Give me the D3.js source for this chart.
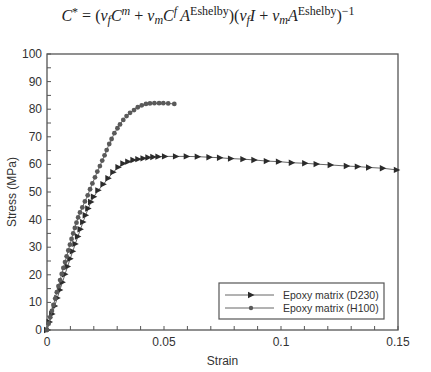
<!DOCTYPE html>
<html>
<head>
<meta charset="utf-8">
<script src="https://cdn.jsdelivr.net/npm/d3@7"></script>
<style>
    body { margin: 0; background: #fff; }
    svg text { font-family: "Liberation Sans", Arial, sans-serif; fill: #333; }
</style>
</head>
<body>
<svg id="svg" width="431" height="372"></svg>
<script>
// strain / stress
var d230Strain = [0, 0.0011, 0.0022, 0.0033, 0.0044, 0.0055, 0.0066, 0.0077, 0.0088, 0.0099,
    0.0110, 0.0121, 0.0132, 0.0143, 0.0154, 0.0165, 0.0176, 0.0188, 0.0200, 0.0219,
    0.0241, 0.0262, 0.0283, 0.0305, 0.0326, 0.0347, 0.0369, 0.0390, 0.0412, 0.0433,
    0.0454, 0.0476, 0.0504, 0.0551, 0.0597, 0.0644, 0.0694, 0.0739, 0.0786, 0.0839,
    0.0886, 0.0939, 0.0991, 0.1046, 0.1103, 0.1152, 0.1212, 0.1281, 0.1328, 0.1376,
    0.1435, 0.1495];
var d230Stress = [0, 2.9, 5.8, 8.7, 11.6, 14.5, 17.3, 20.2, 23.0, 25.8,
    28.5, 31.2, 33.9, 36.5, 39.1, 41.6, 44.0, 46.4, 48.3, 50.6,
    52.8, 55.0, 57.2, 59.0, 60.3, 61.0, 61.6, 61.9, 62.2, 62.5,
    62.7, 62.8, 62.9, 62.9, 62.9, 62.8, 62.6, 62.4, 62.1, 61.9,
    61.6, 61.2, 61.0, 60.6, 60.4, 60.1, 59.8, 59.4, 59.2, 58.9,
    58.6, 58.0];

var h100Strain = [0, 0.0007, 0.0014, 0.0021, 0.0028, 0.0035, 0.0042, 0.0049, 0.0056, 0.0063,
    0.0070, 0.0077, 0.0084, 0.0091, 0.0098, 0.0105, 0.0112, 0.0119, 0.0126, 0.0133,
    0.0141, 0.0151, 0.0162, 0.0174, 0.0184, 0.0194, 0.0205, 0.0215, 0.0226, 0.0236,
    0.0246, 0.0255, 0.0266, 0.0276, 0.0288, 0.0301, 0.0312, 0.0326, 0.0340, 0.0355,
    0.0372, 0.0388, 0.0405, 0.0423, 0.0440, 0.0459, 0.0479, 0.0497, 0.0518, 0.0544];
var h100Stress = [0, 2.3, 4.6, 6.9, 9.1, 11.4, 13.7, 15.9, 18.1, 20.3,
    22.5, 24.6, 26.7, 28.8, 30.9, 33.0, 35.0, 37.0, 38.9, 40.8,
    42.6, 44.4, 46.6, 48.8, 51.0, 53.1, 55.3, 57.4, 59.4, 61.4,
    63.3, 65.2, 67.4, 69.2, 71.3, 73.1, 74.5, 76.1, 77.5, 78.7,
    79.7, 80.7, 81.4, 81.9, 82.1, 82.2, 82.2, 82.2, 82.1, 81.9];

var xTickLabels = [0, 0.05, 0.1, 0.15];
var yTickLabels = [0, 10, 20, 30, 40, 50, 60, 70, 80, 90, 100];
var seriesNames = ["Epoxy matrix (D230)", "Epoxy matrix (H100)"];

var svg = d3.select("#svg");
var L = 47, R = 398, T = 54, B = 330;

var x = d3.scaleLinear().domain([0, 0.15]).range([L, R]);
var y = d3.scaleLinear().domain([0, 100]).range([B, T]);

//equation on top
var eq = [
    ["C", "i", 0], ["*", "", -5], [" = (", "", 0],
    ["v", "i", 0], ["f", "i", 3], ["C", "i", 0], ["m", "i", -6], [" + ", "", 0],
    ["v", "i", 0], ["m", "i", 3], ["C", "i", 0], ["f", "i", -6], ["\u2009A", "i", 0], ["Eshelby", "", -6],
    [")(", "", 0], ["v", "i", 0], ["f", "i", 3], ["I", "i", 0], [" + ", "", 0],
    ["v", "i", 0], ["m", "i", 3], ["A", "i", 0], ["Eshelby", "", -6], [")", "", 0], ["\u22121", "", -6]
];
var eqText = svg.append("text")
        .attr("x", 208)
        .attr("y", 21)
        .attr("text-anchor", "middle")
        .style("font-family", "'Liberation Serif', 'Times New Roman', serif")
        .style("font-size", "16px")
        .style("fill", "#222");
var cur = 0;
eq.forEach((s) => {
    eqText.append("tspan")
            .attr("dy", s[2] - cur)
            .style("font-style", s[1] == "i" ? "italic" : "normal")
            .style("font-size", s[2] != 0 ? "12px" : "16px")
            .text(s[0]);
    cur = s[2];
});

//ticks, inward
var tickCol = "#555";
var xMinor = d3.range(0, 0.1501, 0.01);
svg.selectAll(".xt").data(xMinor).enter().append("line")
        .attr("x1", (d) => x(d)).attr("x2", (d) => x(d))
        .attr("y1", B).attr("y2", B - 4)
        .attr("stroke", tickCol).attr("stroke-width", 1);
var yMinor = d3.range(0, 100.1, 5);
svg.selectAll(".yt").data(yMinor).enter().append("line")
        .attr("x1", L).attr("x2", L + 4)
        .attr("y1", (d) => y(d)).attr("y2", (d) => y(d))
        .attr("stroke", tickCol).attr("stroke-width", 1);

//frame
svg.append("rect")
        .attr("x", L).attr("y", T)
        .attr("width", R - L).attr("height", B - T)
        .attr("fill", "none")
        .attr("stroke", "#555")
        .attr("stroke-width", 1.3);

//tick labels
svg.selectAll(".xl").data(xTickLabels).enter().append("text")
        .attr("x", (d) => x(d))
        .attr("y", B + 16)
        .attr("text-anchor", "middle")
        .style("font-size", "12px")
        .text((d) => d);
svg.selectAll(".yl").data(yTickLabels).enter().append("text")
        .attr("x", L - 5)
        .attr("y", (d) => y(d) + 4)
        .attr("text-anchor", "end")
        .style("font-size", "12px")
        .text((d) => d);

svg.append("text")
        .attr("x", (L + R) / 2)
        .attr("y", 365)
        .attr("text-anchor", "middle")
        .style("font-size", "12px")
        .text("Strain");
svg.append("text")
        .attr("transform", "translate(16," + ((T + B) / 2) + ") rotate(-90)")
        .attr("text-anchor", "middle")
        .style("font-size", "12px")
        .text("Stress (MPa)");

//curves
var line = d3.line().x((d) => x(d[0])).y((d) => y(d[1]));
var d230 = d230Strain.map((v, i) => [v, d230Stress[i]]);
var h100 = h100Strain.map((v, i) => [v, h100Stress[i]]);

var triPath = "M-3,-3.2L3.5,0L-3,3.2Z";

function drawSeries(data, kind) {
    svg.append("path")
            .attr("d", line(data))
            .attr("fill", "none")
            .attr("stroke", "#666")
            .attr("stroke-width", 1);
    if (kind == "tri") {
        svg.selectAll(".tri").data(data).enter().append("path")
                .attr("d", triPath)
                .attr("transform", (d) => "translate(" + x(d[0]) + "," + y(d[1]) + ")")
                .attr("fill", "#2b2b2b");
    } else {
        svg.selectAll(".dot").data(data).enter().append("circle")
                .attr("cx", (d) => x(d[0]))
                .attr("cy", (d) => y(d[1]))
                .attr("r", 2.4)
                .attr("fill", "#5a5a5a");
    }
}
drawSeries(d230, "tri");
drawSeries(h100, "dot");

//legend
var lg = svg.append("g");
lg.append("rect")
        .attr("x", 219).attr("y", 283)
        .attr("width", 165).attr("height", 36)
        .attr("fill", "#fff")
        .attr("stroke", "#555")
        .attr("stroke-width", 1.2);
seriesNames.forEach((n, i) => {
    var ly = 295 + i * 13;
    lg.append("line")
            .attr("x1", 225).attr("x2", 274)
            .attr("y1", ly).attr("y2", ly)
            .attr("stroke", "#666").attr("stroke-width", 1);
    if (i == 0) {
        lg.append("path").attr("d", triPath)
                .attr("transform", "translate(251," + ly + ")")
                .attr("fill", "#2b2b2b");
    } else {
        lg.append("circle").attr("cx", 251).attr("cy", ly).attr("r", 2.2)
                .attr("fill", "#5a5a5a");
    }
    lg.append("text")
            .attr("x", 283)
            .attr("y", ly + 3.5)
            .style("font-size", "10.5px")
            .text(n);
});
</script>
</body>
</html>
